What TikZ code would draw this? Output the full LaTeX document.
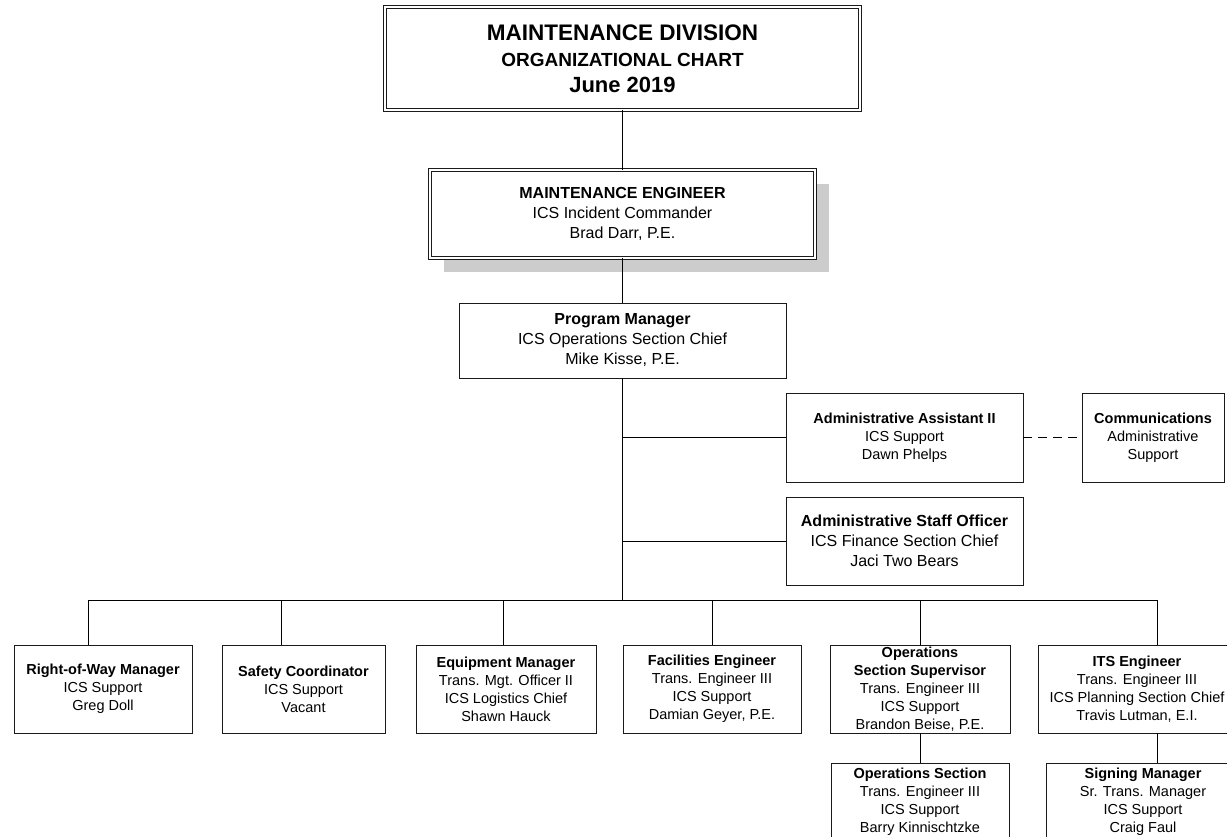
\documentclass[tikz,border=0pt]{standalone}
\usepackage{fontspec}
\setmainfont{Liberation Sans}
\usetikzlibrary{shadows}
\definecolor{mdShadow}{HTML}{CCCCCC}
\definecolor{mdLine}{HTML}{1A1A1A}

\begin{document}
\begin{tikzpicture}[x=1pt, y=-1pt,
  box/.style={draw=mdLine, line width=0.8pt, fill=white, align=center, inner sep=0pt,
    minimum height=88pt, font=\fontsize{14.5}{18}\selectfont},
  bigbox/.style={box, font=\fontsize{16}{20}\selectfont},
  dblbox/.style={draw=mdLine, double, double distance=2.2pt, line width=0.7pt, fill=white,
    align=center, inner sep=0pt},
  link/.style={draw=black, line width=0.8pt}]
  \useasboundingbox (0,0) rectangle (1227,836);
  \fill[white] (0,0) rectangle (1227,836);
  \clip (0,0) rectangle (1227,836);

  % Title zone
  \node[dblbox, minimum width=475pt, minimum height=103pt, font=\fontsize{22}{26}\selectfont\bfseries]
    (title) at (622.5,58.5)
    {\fontsize{22.5}{26}\selectfont MAINTENANCE DIVISION\\
     \fontsize{19}{26}\selectfont ORGANIZATIONAL CHART\\
     \fontsize{22}{26}\selectfont June 2019};

  % Engineer and program manager
  \node[dblbox, minimum width=385pt, minimum height=88pt, font=\fontsize{16}{20}\selectfont,
    drop shadow={shadow xshift=14pt, shadow yshift=-14pt, fill=mdShadow, opacity=1}]
    (me) at (622.5,214)
    {\textbf{MAINTENANCE ENGINEER}\\ICS Incident Commander\\Brad Darr, P.E.};
  \node[bigbox, minimum width=327pt, minimum height=75pt] (pm) at (622.5,340.5)
    {\textbf{Program Manager}\\ICS Operations Section Chief\\Mike Kisse, P.E.};

  % Staff boxes
  \node[box, minimum width=237pt, minimum height=89pt] (aa) at (904.5,437.5)
    {\textbf{Administrative Assistant II}\\ICS Support\\Dawn Phelps};
  \node[box, minimum width=142pt, minimum height=89pt] (comm) at (1153,437.5)
    {\textbf{Communications}\\Administrative\\Support};
  \node[bigbox, minimum width=237pt] (aso) at (904.5,541)
    {\textbf{Administrative Staff Officer}\\ICS Finance Section Chief\\Jaci Two Bears};

  % Bottom row
  \node[box, minimum width=178pt] (row) at (103,689)
    {\textbf{Right-of-Way Manager}\\ICS Support\\Greg Doll};
  \node[box, minimum width=163pt] (safety) at (303.5,689)
    {\textbf{Safety Coordinator}\\ICS Support\\Vacant};
  \node[box, minimum width=180pt] (equip) at (506,689)
    {\textbf{Equipment Manager}\\Trans. Mgt. Officer II\\ICS Logistics Chief\\Shawn Hauck};
  \node[box, minimum width=178pt] (fac) at (712,689)
    {\textbf{Facilities Engineer}\\Trans. Engineer III\\ICS Support\\Damian Geyer, P.E.};
  \node[box, minimum width=180pt] (opsup) at (920,689)
    {\textbf{Operations}\\\textbf{Section Supervisor}\\Trans. Engineer III\\ICS Support\\Brandon Beise, P.E.};
  \node[box, minimum width=198pt] (its) at (1137,689)
    {\textbf{ITS Engineer}\\Trans. Engineer III\\ICS Planning Section Chief\\Travis Lutman, E.I.};
  \node[box, minimum width=178pt, minimum height=77pt] (opsec) at (920,801.5)
    {\textbf{Operations Section}\\Trans. Engineer III\\ICS Support\\Barry Kinnischtzke};
  \node[box, minimum width=194pt, minimum height=77pt] (signing) at (1143,801.5)
    {\textbf{Signing Manager}\\Sr. Trans. Manager\\ICS Support\\Craig Faul};

  % Connectors
  \coordinate (bar) at (622.5,600);
  \draw[link] (title) -- (me);
  \draw[link] (me) -- (pm);
  \draw[link] (pm) -- (bar);
  \draw[link] (aa.west -| bar) -- (aa.west);
  \draw[link] (aso.west -| bar) -- (aso.west);
  \draw[link, dash pattern=on 9pt off 6pt] (aa) -- (comm);
  \draw[link] ([xshift=-15pt]row.north |- bar) -- ([xshift=20pt]its.north |- bar);
  \foreach \n/\dx in {row/-15, safety/-22.5, equip/-3, fac/0, opsup/0, its/20}
    \draw[link] ([xshift=\dx pt]\n.north |- bar) -- ([xshift=\dx pt]\n.north);
  \draw[link] (opsup) -- (opsec);
  \draw[link] ([xshift=20pt]its.south) -- ([xshift=20pt]its.south |- signing.north);
\end{tikzpicture}
\end{document}
